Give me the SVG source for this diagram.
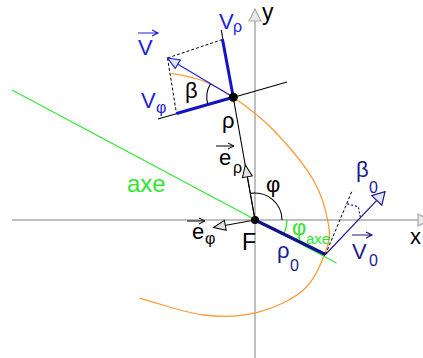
<svg xmlns="http://www.w3.org/2000/svg" width="423" height="358" viewBox="0 0 423 358">
<style>
text{font-family:"Liberation Sans",Arial,sans-serif;}
.t{font-size:22px;fill:#000;}
.s{font-size:16px;}
.bl{fill:#2323d2;}
.nv{fill:#1c1c8e;}
.gr{fill:#2ee62e;}
.ax{stroke:#aaaaaa;stroke-width:1.5;fill:none;}
.thin{stroke:#000;stroke-width:1.1;fill:none;}
.dash{stroke:#000;stroke-width:1;stroke-dasharray:3,2;fill:none;}
.dot{stroke:#1c1c8e;stroke-width:1.2;stroke-dasharray:2,2;fill:none;}
.vec{stroke:#000;stroke-width:1;fill:none;}
.vecB{stroke:#2323d2;stroke-width:1.2;fill:none;}
.vecN{stroke:#1c1c8e;stroke-width:1.2;fill:none;}
</style>
<defs>
<marker id="triK" viewBox="0 0 14 12" refX="13" refY="6" markerWidth="14" markerHeight="12" markerUnits="userSpaceOnUse" orient="auto"><path d="M1,1 L13,6 L1,11 Z" fill="#e4e4e4" stroke="#000" stroke-width="1"/></marker>
<marker id="triB" viewBox="0 0 14 12" refX="13" refY="6" markerWidth="14" markerHeight="12" markerUnits="userSpaceOnUse" orient="auto"><path d="M1,1 L13,6 L1,11 Z" fill="#e4e4ee" stroke="#2323d2" stroke-width="1.2"/></marker>
<marker id="triN" viewBox="0 0 14 16" refX="13" refY="8" markerWidth="14" markerHeight="16" markerUnits="userSpaceOnUse" orient="auto"><path d="M1,1 L13,8 L1,15 Z" fill="#e4e4ee" stroke="#1c1c8e" stroke-width="1.2"/></marker>
<marker id="triG" viewBox="0 0 14 14" refX="13" refY="7" markerWidth="14" markerHeight="14" markerUnits="userSpaceOnUse" orient="auto"><path d="M1,1 L13,7 L1,13 Z" fill="#e8e8e8" stroke="#aaaaaa" stroke-width="1.2"/></marker>
</defs>

<g id="axes">
<line class="ax" x1="12" y1="220" x2="430" y2="220" marker-end="url(#triG)"/>
<line class="ax" x1="255" y1="358" x2="255" y2="9" marker-end="url(#triG)"/>
</g>

<g id="trajectory">
<path d="M171.7,73.3 C181.7,75.3 191.7,76.5 202,80.5 C212.3,84.5 221.4,89.1 233.3,97.3 C245.2,105.6 260,116.2 273.3,130 C286.6,143.8 304.1,164.2 313.3,180 C322.5,195.8 326.6,212.8 328.5,225 C330.5,237.2 329.2,242.5 325,253.3 C320.8,264.1 314.7,280.1 303.3,290 C291.9,299.9 273.4,308.5 256.7,312.7 C240,316.9 222.8,317.4 203.3,315 C183.9,312.6 161.1,303.9 140,298.3" fill="none" stroke="#ff9a33" stroke-width="1.3"/>
</g>

<g id="connectors">
<line x1="12" y1="90" x2="336.5" y2="263" stroke="#2ee62e" stroke-width="1.1"/>
<line class="thin" x1="255" y1="220" x2="221.3" y2="30"/>
<line class="thin" x1="158" y1="119" x2="287" y2="82"/>
<line class="dash" x1="167.5" y1="58" x2="222.5" y2="39.5"/>
<line class="dash" x1="167.5" y1="58" x2="176.5" y2="113.5"/>
<line x1="233.3" y1="97.3" x2="222.5" y2="39.5" stroke="#1414c4" stroke-width="3"/>
<line x1="233.3" y1="97.3" x2="176.5" y2="113.5" stroke="#1414c4" stroke-width="3"/>
<line class="vecB" x1="233.3" y1="97.3" x2="167.5" y2="58" marker-end="url(#triB)"/>
<path class="thin" d="M210.5,83.7 A26.5,26.5 0 0 0 207.8,104.6"/>
<line class="vec" x1="255" y1="220" x2="245.3" y2="165" marker-end="url(#triK)"/>
<line class="vec" x1="255" y1="220" x2="213.5" y2="227.5" marker-end="url(#triK)"/>
<path class="thin" d="M282,220 A27,27 0 0 0 250.3,193.4"/>
<path d="M287,220 A32,32 0 0 1 284.2,233" fill="none" stroke="#2ee62e" stroke-width="1.3"/>
<line x1="255" y1="220" x2="325.5" y2="254.5" stroke="#12128c" stroke-width="3.2"/>
<line class="dash" x1="325.5" y1="254.5" x2="351.7" y2="191.7"/>
<path class="dot" d="M347.3,203.8 L358.3,206.8 L360.3,217"/>
<line class="vecN" x1="325.5" y1="254.5" x2="385" y2="191.7" marker-end="url(#triN)"/>
<circle cx="233.3" cy="97.3" r="4.5" fill="#000"/>
<circle cx="255" cy="220" r="4" fill="#000"/>
</g>

<g id="labels">
<text class="t" x="262" y="20" style="font-size:23px">y</text>
<text class="t" x="410" y="244">x</text>

<path class="vecB" d="M138,33 H158 M152,30 L158,33 L152,36"/>
<text class="t bl" x="138" y="55">V</text>

<text class="t bl" x="219" y="29">V</text>
<text class="s bl" x="233" y="32">ρ</text>

<text class="t bl" x="141" y="108">V</text>
<text class="s bl" x="156" y="113">φ</text>

<text class="t" x="185" y="98">β</text>
<text class="t" x="222" y="128">ρ</text>

<path class="vec" d="M216,146 H234 M228,143 L234,146 L228,149"/>
<text class="t" x="219" y="165">e</text>
<text class="s" x="233" y="173">ρ</text>

<text class="t gr" x="127" y="192" style="font-size:24px">axe</text>
<text class="t" x="266" y="192">φ</text>
<text class="t" x="242" y="250" style="font-size:23px">F</text>

<path class="vec" d="M187,221 H205 M199,218 L205,221 L199,224"/>
<text class="t" x="192" y="239">e</text>
<text class="s" x="205" y="244">φ</text>

<text class="t gr" x="292" y="235">φ</text>
<text class="s gr" x="306" y="244" style="font-size:15px">axe</text>

<text class="t nv" x="277" y="258">ρ</text>
<text class="s nv" x="290" y="271">0</text>

<text class="t nv" x="356" y="177">β</text>
<text class="s nv" x="369" y="193">0</text>

<path class="vecN" d="M352,235 H372 M366,232 L372,235 L366,238"/>
<text class="t nv" x="352" y="259">V</text>
<text class="s nv" x="369" y="266">0</text>
</g>
</svg>
